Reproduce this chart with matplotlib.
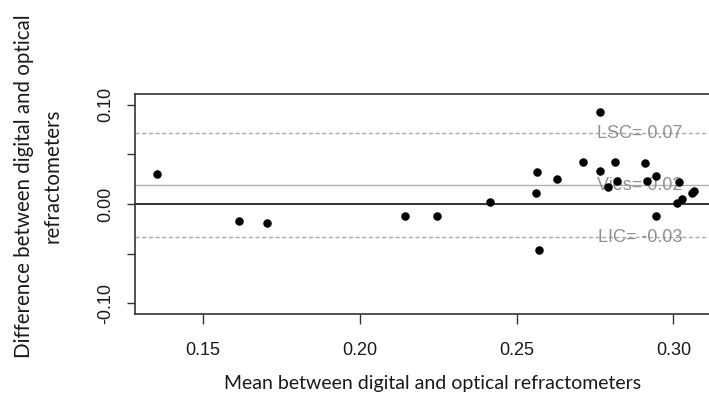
import matplotlib
matplotlib.use("Agg")
import matplotlib.pyplot as plt

# Bland-Altman data
mean_vals = [0.1353, 0.1614, 0.1705, 0.2144, 0.2247, 0.2415, 0.2564, 0.2562,
             0.2570, 0.2629, 0.2713, 0.2767, 0.2766, 0.2815, 0.2793, 0.2819,
             0.2911, 0.2944, 0.2915, 0.2944, 0.3019, 0.3013, 0.3029, 0.3059,
             0.3067]
diff_vals = [0.0306, -0.0172, -0.0195, -0.0118, -0.0118, 0.0023, 0.0326, 0.0114,
             -0.0464, 0.0249, 0.0423, 0.0930, 0.0329, 0.0423, 0.0175, 0.0235,
             0.0410, 0.0282, 0.0232, -0.0124, 0.0225, 0.0007, 0.0047, 0.0108,
             0.0131]

bias = 0.0189
lsc = 0.0714
lic = -0.0333
line_labels = ["LSC= 0.07", "Viés= 0.02", "LIC= -0.03"]

x_ticks = [0.15, 0.20, 0.25, 0.30]
y_ticks = [-0.10, -0.05, 0.00, 0.05, 0.10]
y_tick_labels = ["-0.10", "", "0.00", "", "0.10"]

W, H = 709, 394
fig = plt.figure(figsize=(W / 100, H / 100), dpi=100)
# plot box runs slightly past the right edge, as in the cropped original
left, right, top, bottom = 135.3, 716.0, 94.0, 314.0
ax = fig.add_axes([left / W, (H - bottom) / H, (right - left) / W, (bottom - top) / H])

ax.set_xlim(0.1284, 0.3136)
ax.set_ylim(-0.1109, 0.1109)

ax.axhline(0, color="#333333", lw=1.4, zorder=1)
ax.axhline(bias, color="#b0b0b0", lw=1.0, zorder=1)
ax.axhline(lsc, color="#aaaaaa", lw=1.0, ls=(0, (3, 1.8)), zorder=1)
ax.axhline(lic, color="#aaaaaa", lw=1.0, ls=(0, (3, 1.8)), zorder=1)

ax.scatter(mean_vals, diff_vals, s=26, color="black", zorder=3)

text_x = 0.2894
for yv, lab in zip([lsc, bias, lic], line_labels):
    ax.text(text_x, yv, lab, ha="center", va="center", color="#909090",
            fontsize=13, family="Liberation Sans", zorder=2)

ax.set_xticks(x_ticks)
ax.set_xticklabels([f"{v:.2f}" for v in x_ticks])
ax.set_yticks(y_ticks)
ax.set_yticklabels(y_tick_labels, rotation=90, va="center")
ax.tick_params(axis="x", length=7, width=1.0, pad=13, labelsize=13,
               colors="#333333", labelcolor="#1a1a1a")
ax.tick_params(axis="y", length=6, width=1.0, pad=9.5, labelsize=13,
               colors="#333333", labelcolor="#1a1a1a")
for lab in ax.get_xticklabels() + ax.get_yticklabels():
    lab.set_family("Liberation Sans")

for sp in ax.spines.values():
    sp.set_color("#333333")
    sp.set_linewidth(1.2)

fig.text(433 / W, (H - 389) / H, "Mean between digital and optical refractometers",
         ha="center", va="baseline", fontsize=14, family="Lato", color="#1a1a1a")
fig.text(24 / W, (H - 186) / H, "Difference between digital and optical",
         ha="center", va="center", rotation=90, fontsize=14.8, family="Lato",
         color="#1a1a1a")
fig.text(53 / W, (H - 176) / H, "refractometers",
         ha="center", va="center", rotation=90, fontsize=14.8, family="Lato",
         color="#1a1a1a")

fig.savefig("out.png", dpi=100)
